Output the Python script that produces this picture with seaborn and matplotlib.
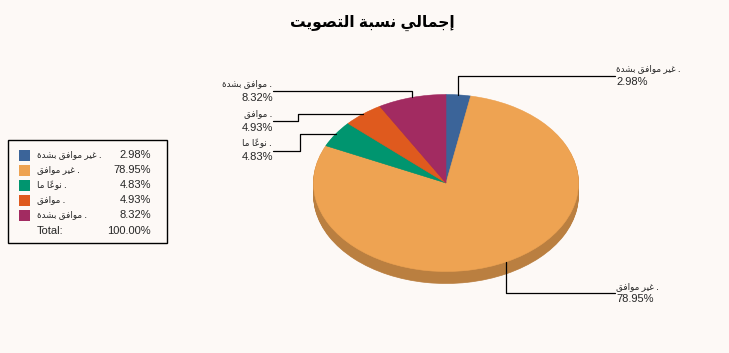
import numpy as np
import matplotlib
matplotlib.use("Agg")
import matplotlib.pyplot as plt
from matplotlib.patches import Rectangle
import seaborn as sns

# ---------------- data ----------------
categories = ["غير موافق بشدة", "غير موافق", "نوعاً ما", "موافق", "موافق بشدة"]
values = [2.98, 78.95, 4.83, 4.93, 8.32]
total_label = "Total:"
total_value = "100.00%"
title_text = "إجمالي نسبة التصويت"

colors_top = ["#3b6499", "#eea352", "#00956f", "#df5a1e", "#a22b61"]

# ---------------- arabic shaping (presentation forms, visual order) ----------------
FORMS = {
    'ا': ('\uFE8D', '\uFE8E', None, None),
    'إ': ('\uFE87', '\uFE88', None, None),
    'ب': ('\uFE8F', '\uFE90', '\uFE91', '\uFE92'),
    'ة': ('\uFE93', '\uFE94', None, None),
    'ت': ('\uFE95', '\uFE96', '\uFE97', '\uFE98'),
    'ج': ('\uFE9D', '\uFE9E', '\uFE9F', '\uFEA0'),
    'د': ('\uFEA9', '\uFEAA', None, None),
    'ر': ('\uFEAD', '\uFEAE', None, None),
    'س': ('\uFEB1', '\uFEB2', '\uFEB3', '\uFEB4'),
    'ش': ('\uFEB5', '\uFEB6', '\uFEB7', '\uFEB8'),
    'ص': ('\uFEB9', '\uFEBA', '\uFEBB', '\uFEBC'),
    'ع': ('\uFEC9', '\uFECA', '\uFECB', '\uFECC'),
    'غ': ('\uFECD', '\uFECE', '\uFECF', '\uFED0'),
    'ف': ('\uFED1', '\uFED2', '\uFED3', '\uFED4'),
    'ق': ('\uFED5', '\uFED6', '\uFED7', '\uFED8'),
    'ل': ('\uFEDD', '\uFEDE', '\uFEDF', '\uFEE0'),
    'م': ('\uFEE1', '\uFEE2', '\uFEE3', '\uFEE4'),
    'ن': ('\uFEE5', '\uFEE6', '\uFEE7', '\uFEE8'),
    'و': ('\uFEED', '\uFEEE', None, None),
    'ي': ('\uFEF1', '\uFEF2', '\uFEF3', '\uFEF4'),
}
MARKS = {'\u064B', '\u064C', '\u064D', '\u064E', '\u064F', '\u0650', '\u0651', '\u0652'}


def rtl(text):
    chars = list(text)
    n = len(chars)

    def neighbour(i, step):
        j = i + step
        while 0 <= j < n and chars[j] in MARKS:
            j += step
        return chars[j] if 0 <= j < n else None

    shaped = []
    for i, c in enumerate(chars):
        if c in FORMS:
            p = neighbour(i, -1)
            q = neighbour(i, +1)
            jp = p in FORMS and FORMS[p][2] is not None
            jn = FORMS[c][2] is not None and q in FORMS
            iso, fin, ini, med = FORMS[c]
            if jp and jn:
                shaped.append(med)
            elif jp:
                shaped.append(fin)
            elif jn:
                shaped.append(ini)
            else:
                shaped.append(iso)
        else:
            shaped.append(c)
    clusters = []
    for c in shaped:
        if c in MARKS and clusters:
            clusters[-1] += c
        else:
            clusters.append(c)
    return "".join(reversed(clusters))


# ---------------- style ----------------
BG = "#fdf9f6"
sns.set_theme(style="white", rc={"figure.facecolor": BG, "axes.facecolor": BG})
plt.rcParams['font.family'] = ['Liberation Sans', 'DejaVu Sans']
palette = sns.color_palette(colors_top)
side_palette = [tuple(np.array(c) * 0.78) for c in palette]

W, H = 729, 353
fig = plt.figure(figsize=(W / 100, H / 100), dpi=100)

# pie geometry (pixels)
CX, CY, RX, RY, DEPTH = 446, 183, 132.5, 88.5, 12
YLO, YHI = -1.25, 1.05
axp = fig.add_axes([(CX - RX) / W, (H - CY + YLO * RY) / H,
                    2 * RX / W, (YHI - YLO) * RY / H])

nlayers = 14
for k in range(nlayers, 0, -1):
    dy = k * DEPTH / RY / nlayers
    wedges, _ = axp.pie(values, colors=side_palette, startangle=90, counterclock=False,
                        center=(0, -dy), radius=1, wedgeprops=dict(linewidth=0.5))
    for w in wedges:
        w.set_edgecolor(w.get_facecolor())
wedges, _ = axp.pie(values, colors=palette, startangle=90, counterclock=False,
                    center=(0, 0), radius=1, wedgeprops=dict(linewidth=0.4))
for w in wedges:
    w.set_edgecolor(w.get_facecolor())
axp.set_aspect('auto')
axp.set_xlim(-1, 1)
axp.set_ylim(YLO, YHI)
axp.axis('off')

# overlay in pixel coordinates
ax = fig.add_axes([0, 0, 1, 1])
ax.set_xlim(0, W)
ax.set_ylim(H, 0)
ax.axis('off')
ax.patch.set_alpha(0)

ax.text(372, 23, rtl(title_text), ha='center', va='center', fontsize=11.2,
        fontweight='bold', color='black')

# anchors at mid-angle of each slice
cum = np.cumsum([0] + values)
mids = (cum[:-1] + cum[1:]) / 2 / 100 * 2 * np.pi
anchors = [(CX + RX * np.sin(a), CY - RY * np.cos(a)) for a in mids]

pct = ["%.2f%%" % v for v in values]
labels = [rtl(c) + " ." for c in categories]
FS = 8
FS_AR = 6.3
LW = 0.9

# right-side labels: blue (0) and orange (1)
right_line_y = {0: 75.5, 1: 293}
for i, ly in right_line_y.items():
    axx, ayy = anchors[i]
    ax.plot([axx, axx, 615], [ayy, ly, ly], color='black', lw=LW)
    ax.text(616, ly - 6.5, labels[i], ha='left', va='center', fontsize=FS_AR)
    ax.text(616, ly + 6.5, pct[i], ha='left', va='center', fontsize=FS)

# left-side labels: magenta (4), red (3), green (2)
LX = 273
left_line_y = {4: 91, 3: 121, 2: 150.5}
elbow_x = {4: None, 3: 298, 2: 300}
for i, ly in left_line_y.items():
    axx, ayy = anchors[i]
    if elbow_x[i] is None:
        xs, ys = [LX, axx, axx], [ly, ly, ayy]
    else:
        ex = elbow_x[i]
        xs, ys = [LX, ex, ex, axx], [ly, ly, ayy, ayy]
    ax.plot(xs, ys, color='black', lw=LW)
    ax.text(LX - 1, ly - 7, labels[i], ha='right', va='center', fontsize=FS_AR)
    ax.text(LX, ly + 7, pct[i], ha='right', va='center', fontsize=FS)

# legend box
ax.add_patch(Rectangle((8, 140), 159, 103, fill=False, edgecolor='black', lw=1.0))
for r in range(len(values)):
    yc = 155 + r * 15
    ax.add_patch(Rectangle((19.5, yc - 5.5), 11, 11, facecolor=palette[r], edgecolor='none'))
    ax.text(37, yc, labels[r], ha='left', va='center', fontsize=FS_AR)
    ax.text(151, yc, pct[r], ha='right', va='center', fontsize=FS)
ax.text(37, 231.5, total_label, ha='left', va='center', fontsize=FS)
ax.text(151, 231.5, total_value, ha='right', va='center', fontsize=FS)

fig.savefig("out.png", dpi=100, facecolor=BG)
